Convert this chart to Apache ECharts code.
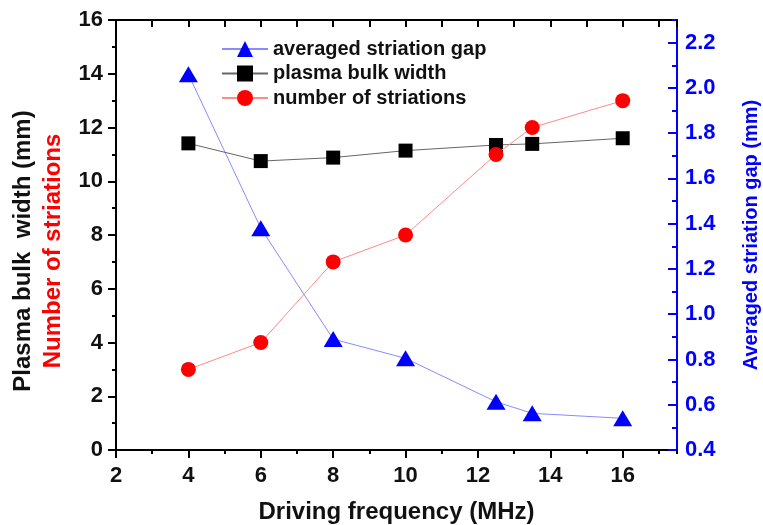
<!DOCTYPE html>
<html>
<head>
<meta charset="utf-8">
<script src="https://cdn.jsdelivr.net/npm/echarts@6/dist/echarts.min.js"></script>
<style>
html,body{margin:0;padding:0;background:#fff;}
#chart{width:763px;height:525px;}
</style>
</head>
<body>
<div id="chart"></div>
<script>
// ---- data ----
var frequency = [4, 6, 8, 10, 12.5, 13.5, 16];
var striationGap = [2.06, 1.38, 0.89, 0.805, 0.613, 0.562, 0.54];
var bulkWidth = [11.41, 10.75, 10.88, 11.14, 11.35, 11.39, 11.6];
var numStriations = [3, 4, 7, 8, 11, 12, 13];
var seriesNames = ['averaged striation gap', 'plasma bulk width', 'number of striations'];
var xTitle = 'Driving frequency (MHz)';
var yLeftTitle1 = 'Plasma bulk  width (mm)';
var yLeftTitle2 = 'Number of striations';
var yRightTitle = 'Averaged striation gap (mm)';

function pairs(xs, ys) { return xs.map(function (x, i) { return [x, ys[i]]; }); }

var FONT = "'Liberation Sans', Arial, sans-serif";
var chart = echarts.init(document.getElementById('chart'), null, {renderer: 'canvas'});

var option = {
  animation: false,
  backgroundColor: '#fff',
  textStyle: {fontFamily: FONT},
  grid: {left: 116, right: 86, top: 20, bottom: 75, outerBoundsMode: 'none', containLabel: false},
  legend: {
    orient: 'vertical',
    left: 216, top: 34,
    itemWidth: 46, itemHeight: 20, itemGap: 4.5,
    data: seriesNames,
    textStyle: {fontFamily: FONT, fontWeight: 'bold', fontSize: 20, color: '#111'}
  },
  xAxis: [
    {
      type: 'value', position: 'bottom', min: 2, max: 17.5, interval: 2,
      name: xTitle, nameLocation: 'middle', nameGap: 50,
      nameTextStyle: {fontFamily: FONT, fontWeight: 'bold', fontSize: 24, color: '#111'},
      axisLine: {show: true, lineStyle: {color: '#000', width: 2}},
      axisTick: {show: true, inside: false, length: 8, lineStyle: {color: '#000', width: 2}},
      axisLabel: {show: true, margin: 15, showMaxLabel: false, fontFamily: FONT, fontWeight: 'bold', fontSize: 22, color: '#111'},
      splitLine: {show: false}
    },
    {
      type: 'value', position: 'bottom', min: 2, max: 17.5, interval: 1,
      axisLine: {show: false},
      axisTick: {show: true, inside: false, length: 4, lineStyle: {color: '#000', width: 2}},
      axisLabel: {show: false}, splitLine: {show: false}
    },
    {
      type: 'value', position: 'top', min: 2, max: 17.5, interval: 1,
      axisLine: {show: true, lineStyle: {color: '#000', width: 2}},
      axisTick: {show: true, inside: true, length: 7, lineStyle: {color: '#000', width: 2}},
      axisLabel: {show: false}, splitLine: {show: false}
    }
  ],
  yAxis: [
    {
      type: 'value', position: 'left', min: 0, max: 16, interval: 2,
      name: '{a|' + yLeftTitle1 + '}\n{b|' + yLeftTitle2 + '}',
      nameLocation: 'middle', nameRotate: 90, nameGap: 48,
      nameTextStyle: {
        padding: [0, 32, 0, 0],
        rich: {
          a: {fontFamily: FONT, fontWeight: 'bold', fontSize: 24, color: '#111', lineHeight: 30},
          b: {fontFamily: FONT, fontWeight: 'bold', fontSize: 24, color: '#ff0000', lineHeight: 30}
        }
      },
      axisLine: {show: true, lineStyle: {color: '#000', width: 2}},
      axisTick: {show: true, inside: false, length: 8, lineStyle: {color: '#000', width: 2}},
      minorTick: {show: true, splitNumber: 2, length: 4, lineStyle: {color: '#000', width: 2}},
      axisLabel: {show: true, margin: 13, fontFamily: FONT, fontWeight: 'bold', fontSize: 22, color: '#111'},
      splitLine: {show: false}, minorSplitLine: {show: false}
    },
    {
      type: 'value', position: 'right', min: 0.4, max: 2.3, interval: 0.2,
      name: yRightTitle, nameLocation: 'middle', nameRotate: 90, nameGap: 64,
      nameTextStyle: {fontFamily: FONT, fontWeight: 'bold', fontSize: 20, color: '#0000ff'},
      axisLine: {show: true, lineStyle: {color: '#0000ff', width: 2}},
      axisTick: {show: true, inside: true, length: 9, lineStyle: {color: '#0000ff', width: 2}},
      axisLabel: {show: true, margin: 8, showMaxLabel: false, fontFamily: FONT, fontWeight: 'bold', fontSize: 22, color: '#0000ff',
        formatter: function (v) { return v.toFixed(1); }},
      splitLine: {show: false}
    },
    {
      type: 'value', position: 'right', min: 0.4, max: 2.3, interval: 0.1,
      axisLine: {show: false},
      axisTick: {show: true, inside: true, length: 5, lineStyle: {color: '#0000ff', width: 2}},
      axisLabel: {show: false}, splitLine: {show: false}
    }
  ],
  series: [
    {
      name: seriesNames[0], type: 'line', xAxisIndex: 0, yAxisIndex: 1,
      data: pairs(frequency, striationGap),
      symbol: 'triangle', symbolSize: [19, 16],
      itemStyle: {color: '#0000ff'},
      lineStyle: {color: '#8a8aff', width: 1},
      z: 2
    },
    {
      name: seriesNames[1], type: 'line', xAxisIndex: 0, yAxisIndex: 0,
      data: pairs(frequency, bulkWidth),
      symbol: 'rect', symbolSize: 14,
      itemStyle: {color: '#000000'},
      lineStyle: {color: '#666666', width: 1},
      z: 3
    },
    {
      name: seriesNames[2], type: 'line', xAxisIndex: 0, yAxisIndex: 0,
      data: pairs(frequency, numStriations),
      symbol: 'circle', symbolSize: 15,
      itemStyle: {color: '#ff0000'},
      lineStyle: {color: '#ff8a8a', width: 1},
      z: 4
    }
  ]
};
chart.setOption(option);
</script>
</body>
</html>
